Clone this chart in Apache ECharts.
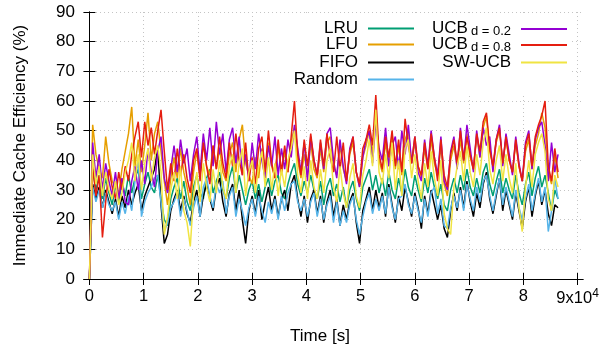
<!DOCTYPE html>
<html>
<head>
<meta charset="utf-8">
<script src="https://cdn.jsdelivr.net/npm/echarts@6/dist/echarts.min.js"></script>
<style>
  html, body { margin: 0; padding: 0; background: #fff; }
  #chart { width: 613px; height: 353px; }
</style>
</head>
<body>
<div id="chart"></div>
<script>
// one sample every 600 s over a day
const sampleSeconds = 600;
const xTicks = [0, 10000, 20000, 30000, 40000, 50000, 60000, 70000, 80000, 90000];

const lru = [
  0, 37, 30, 35, 27, 34, 29, 25, 32, 26,
  33, 28, 35, 29, 34, 37, 27, 32, 36, 31,
  29, 35, 27, 20, 18, 27, 31, 34, 27, 33,
  26, 23, 31, 35, 29, 27, 34, 37, 29, 33,
  36, 30, 27, 34, 38, 29, 35, 30, 25, 30,
  33, 27, 32, 26, 31, 34, 28, 33, 35, 29,
  27, 32, 36, 39, 32, 28, 33, 29, 35, 30,
  27, 33, 25, 31, 34, 28, 32, 26, 31, 24,
  30, 33, 27, 23, 31, 34, 37, 30, 35, 29,
  34, 28, 36, 30, 27, 34, 29, 37, 31, 28,
  35, 30, 26, 34, 29, 36, 31, 27, 32, 25,
  23, 30, 34, 29, 35, 30, 37, 31, 28, 34,
  29, 36, 39, 32, 28, 33, 37, 29, 34, 30,
  27, 35, 29, 25, 32, 36, 28, 34, 38, 31,
  35, 29, 23, 30, 27
];
const lfu = [
  0, 52, 42, 37, 34, 48, 39, 33, 31, 29,
  37, 43, 49, 58, 38, 47, 36, 45, 56, 40,
  49, 53, 43, 33, 25, 34, 41, 34, 44, 36,
  31, 25, 36, 43, 35, 46, 38, 35, 45, 37,
  44, 36, 33, 42, 46, 36, 47, 52, 39, 35,
  32, 41, 34, 44, 36, 46, 38, 34, 45, 35,
  43, 36, 46, 51, 40, 34, 42, 35, 46, 37,
  34, 44, 36, 46, 48, 38, 35, 45, 37, 33,
  42, 46, 36, 31, 41, 45, 50, 42, 56, 40,
  36, 46, 38, 49, 37, 45, 35, 47, 50, 39,
  46, 38, 34, 44, 37, 47, 39, 35, 45, 32,
  28, 40, 45, 38, 47, 39, 49, 41, 37, 48,
  41, 51, 55, 43, 38, 46, 50, 39, 47, 40,
  36, 46, 38, 33, 43, 47, 37, 45, 49, 56,
  51, 36, 32, 42, 34
];
const fifo = [
  0, 32, 27, 31, 24, 30, 26, 22, 27, 21,
  28, 24, 30, 25, 29, 32, 23, 28, 31, 34,
  37, 44, 25, 12, 15, 23, 27, 30, 23, 28,
  22, 19, 26, 30, 21, 28, 32, 27, 23, 31,
  34, 26, 21, 29, 32, 23, 30, 20, 12, 23,
  28, 22, 30, 20, 26, 31, 23, 28, 21, 27,
  30, 23, 32, 35, 27, 21, 28, 19, 27, 30,
  22, 28, 19, 26, 30, 21, 27, 18, 25, 20,
  26, 29, 19, 12, 23, 27, 31, 23, 30, 24,
  29, 21, 32, 25, 19, 28, 23, 31, 26, 21,
  29, 24, 17, 28, 22, 30, 25, 20, 25, 17,
  14, 23, 29, 23, 31, 24, 33, 26, 21, 29,
  24, 32, 36, 27, 22, 28, 34, 23, 30, 25,
  20, 29, 23, 17, 26, 31, 21, 28, 33, 25,
  30, 22, 18, 25, 24
];
const random = [
  0, 31, 26, 30, 24, 29, 25, 23, 26, 20,
  26, 22, 28, 23, 33, 40, 21, 26, 29, 31,
  34, 35, 26, 16, 19, 24, 26, 29, 21, 27,
  23, 18, 24, 28, 21, 31, 34, 28, 24, 32,
  29, 33, 22, 28, 31, 21, 27, 23, 18, 24,
  27, 21, 28, 23, 19, 26, 22, 27, 20, 28,
  23, 29, 32, 33, 26, 23, 27, 21, 26, 29,
  21, 27, 20, 25, 28, 19, 26, 18, 23, 19,
  25, 28, 20, 15, 21, 26, 29, 22, 27, 23,
  28, 22, 31, 24, 20, 27, 28, 32, 25, 22,
  28, 23, 19, 27, 21, 29, 31, 22, 27, 18,
  17, 24, 28, 24, 30, 23, 32, 27, 23, 31,
  26, 33, 35, 28, 23, 29, 34, 25, 31, 26,
  21, 30, 24, 20, 27, 32, 23, 29, 34, 26,
  31, 16, 23, 34, 27
];
const ucb02 = [
  0, 46, 34, 42, 30, 39, 33, 28, 36, 27,
  34, 26, 25, 33, 38, 30, 40, 32, 44, 36,
  31, 43, 48, 34, 29, 37, 45, 36, 47, 39,
  44, 33, 42, 48, 36, 49, 40, 51, 38, 53,
  42, 49, 36, 47, 51, 39, 48, 35, 42, 33,
  46, 37, 49, 40, 34, 45, 38, 48, 35, 44,
  37, 47, 41, 52, 44, 36, 46, 33, 48, 40,
  35, 46, 37, 49, 51, 40, 34, 47, 38, 32,
  44, 48, 36, 31, 41, 47, 50, 39, 53, 44,
  40, 51, 38, 45, 48, 37, 50, 42, 52, 39,
  48, 36, 33, 47, 38, 50, 41, 35, 48, 33,
  30, 43, 48, 37, 51, 40, 52, 44, 36, 50,
  41, 51, 45, 48, 36, 47, 52, 38, 49, 42,
  35, 48, 39, 33, 46, 50, 37, 47, 51, 53,
  45, 33, 46, 36, 42
];
const ucb08 = [
  0, 38, 28, 35, 14, 26, 37, 31, 27, 36,
  30, 38, 33, 42, 48, 53, 41, 53, 45, 51,
  42, 50, 57, 43, 30, 39, 33, 44, 35, 42,
  34, 29, 40, 44, 33, 46, 38, 32, 45, 37,
  48, 39, 34, 46, 38, 49, 40, 35, 46, 33,
  41, 32, 44, 48, 36, 50, 39, 34, 47, 36,
  45, 36, 48, 60, 42, 35, 47, 38, 49, 40,
  35, 47, 38, 49, 41, 36, 48, 37, 46, 33,
  43, 48, 36, 32, 44, 47, 52, 45, 62, 42,
  37, 48, 41, 50, 38, 47, 36, 54, 45, 39,
  48, 38, 35, 46, 37, 49, 41, 33, 47, 35,
  31, 42, 47, 39, 50, 40, 48, 42, 37, 49,
  43, 53, 56, 44, 38, 47, 51, 39, 48, 40,
  36, 47, 38, 33, 45, 49, 38, 48, 52, 55,
  60, 38, 33, 44, 36
];
const swUcb = [
  0, 42, 32, 38, 28, 36, 30, 27, 33, 25,
  29, 36, 40, 46, 33, 42, 30, 39, 44, 33,
  41, 45, 36, 15, 21, 30, 36, 27, 38, 23,
  19, 11, 28, 36, 26, 39, 31, 26, 37, 29,
  40, 31, 27, 38, 42, 29, 39, 44, 28, 36,
  40, 29, 38, 43, 31, 41, 30, 39, 28, 37,
  31, 40, 44, 50, 35, 29, 38, 27, 40, 31,
  27, 37, 29, 40, 44, 31, 26, 38, 29, 24,
  34, 39, 28, 24, 35, 40, 47, 38, 57, 36,
  32, 42, 34, 46, 30, 40, 28, 44, 47, 34,
  42, 33, 27, 39, 31, 43, 34, 28, 40, 22,
  17, 15, 31, 38, 43, 33, 45, 36, 31, 42,
  35, 46, 51, 37, 32, 40, 45, 33, 42, 34,
  29, 39, 24, 16, 31, 40, 31, 42, 46, 49,
  43, 27, 23, 35, 31
];

const seriesDefs = [
  { name: 'LRU', values: lru, color: '#009e73' },
  { name: 'LFU', values: lfu, color: '#e69f00' },
  { name: 'FIFO', values: fifo, color: '#000000' },
  { name: 'Random', values: random, color: '#56b4e9' },
  { name: 'UCB d = 0.2', values: ucb02, color: '#9400d3' },
  { name: 'UCB d = 0.8', values: ucb08, color: '#e51e10' },
  { name: 'SW-UCB', values: swUcb, color: '#f0e442' }
];

const FONT = 'Liberation Sans';

function pairs(values) {
  return values.map((v, i) => [i * sampleSeconds, v]);
}

function legendFor(name, right, top) {
  return {
    data: [name],
    orient: 'vertical',
    align: 'right',
    right: right,
    top: top,
    padding: 0,
    icon: 'rect',
    itemWidth: 46,
    itemHeight: 2,
    itemStyle: { borderWidth: 0 },
    selectedMode: false,
    formatter: (n) => {
      const m = n.match(/^UCB (d = .*)$/);
      return m ? '{b|UCB}{s|' + m[1] + '}' : n;
    },
    textStyle: {
      fontFamily: FONT,
      fontSize: 17,
      color: '#000',
      padding: [0, 5, 0, 0],
      rich: {
        b: { fontFamily: FONT, fontSize: 17, color: '#000', verticalAlign: 'top', lineHeight: 18 },
        s: { fontFamily: FONT, fontSize: 13, color: '#000', verticalAlign: 'bottom', lineHeight: 13, padding: [9, 0, 0, 3] }
      }
    }
  };
}

const tickStyle = { inside: true, length: 6, lineStyle: { color: '#000', width: 1 } };
const gridLine = { show: true, lineStyle: { color: '#c4c4c4', type: [1, 3], width: 1 } };

const chart = echarts.init(document.getElementById('chart'), null, { renderer: 'canvas' });
chart.setOption({
  animation: false,
  backgroundColor: '#fff',
  grid: { left: 84, right: 30, top: 12, bottom: 74 },
  // opaque key box, hides the grid lines behind the legend
  graphic: [{
    type: 'rect',
    z: 1,
    silent: true,
    shape: { x: 272, y: 13, width: 297, height: 80 },
    style: { fill: '#fff' }
  }],
  legend: [
    legendFor('LRU', 199, 20),
    legendFor('LFU', 199, 36),
    legendFor('FIFO', 199, 54),
    legendFor('Random', 199, 71),
    legendFor('UCB d = 0.2', 46, 16),
    legendFor('UCB d = 0.8', 46, 32),
    legendFor('SW-UCB', 46, 54)
  ],
  xAxis: [
    {
      type: 'value',
      min: -1000,
      max: 91000,
      name: 'Time [s]',
      nameLocation: 'middle',
      nameGap: 49,
      nameTextStyle: { fontFamily: FONT, fontSize: 17, color: '#000', padding: [0, 27, 0, 0] },
      axisLine: { lineStyle: { color: '#000', width: 1 } },
      axisTick: Object.assign({ customValues: xTicks }, tickStyle),
      splitLine: gridLine,
      axisLabel: {
        customValues: xTicks,
        margin: 9,
        fontFamily: FONT,
        fontSize: 16.5,
        color: '#000',
        formatter: (v) => (v === 90000 ? '9x10{sup|4}' : String(v / 10000)),
        rich: { sup: { fontFamily: FONT, fontSize: 12, color: '#000', verticalAlign: 'top', padding: [0, 0, 9, 0] } }
      }
    },
    {
      type: 'value',
      position: 'top',
      min: -1000,
      max: 91000,
      axisLine: { lineStyle: { color: '#000', width: 1 } },
      axisTick: Object.assign({ customValues: xTicks }, tickStyle),
      axisLabel: { show: false },
      splitLine: { show: false }
    }
  ],
  yAxis: [
    {
      type: 'value',
      min: 0,
      max: 90,
      interval: 10,
      name: 'Immediate Cache Efficiency (%)',
      nameLocation: 'middle',
      nameGap: 55,
      nameTextStyle: { fontFamily: FONT, fontSize: 17, color: '#000' },
      axisLine: { show: true, lineStyle: { color: '#000', width: 1 } },
      axisTick: Object.assign({ show: true }, tickStyle),
      splitLine: gridLine,
      axisLabel: { margin: 9, fontFamily: FONT, fontSize: 17, color: '#000' }
    },
    {
      type: 'value',
      position: 'right',
      min: 0,
      max: 90,
      interval: 10,
      axisLine: { show: true, lineStyle: { color: '#000', width: 1 } },
      axisTick: Object.assign({ show: true }, tickStyle),
      axisLabel: { show: false },
      splitLine: { show: false }
    }
  ],
  series: seriesDefs.map((s) => ({
    name: s.name,
    type: 'line',
    data: pairs(s.values),
    showSymbol: false,
    symbol: 'none',
    color: s.color,
    lineStyle: { color: s.color, width: 1.5 },
    emphasis: { disabled: true }
  }))
});
</script>
</body>
</html>
